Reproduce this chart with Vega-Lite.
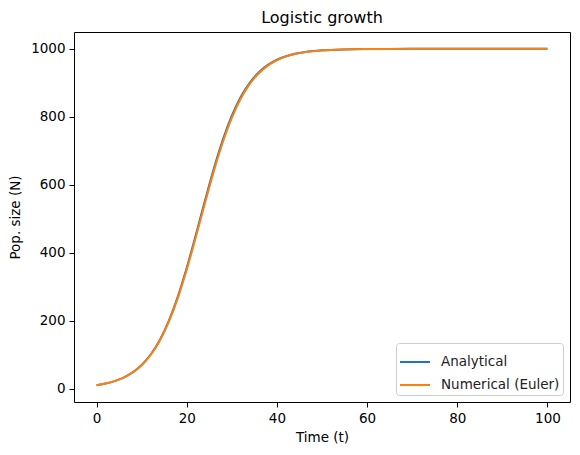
{
  "$schema": "https://vega.github.io/schema/vega-lite/v6.json",
  "width": 496,
  "height": 370,
  "autosize": {"type": "none"},
  "padding": {"left": 74, "top": 32, "right": 10, "bottom": 53},
  "background": "white",
  "title": {"text": "Logistic growth", "font": "DejaVu Sans", "fontSize": 16, "fontWeight": "normal", "color": "black", "offset": 6},
  "config": {
    "view": {"stroke": "black", "strokeWidth": 1},
    "axis": {"grid": false, "domain": false, "tickColor": "black", "tickSize": 5, "labelColor": "black", "labelFont": "DejaVu Sans", "labelFontSize": 13.5, "titleFont": "DejaVu Sans", "titleFontSize": 13.5, "titleFontWeight": "normal", "titleColor": "black", "labelPadding": 4},
    "legend": {"labelFont": "DejaVu Sans", "labelFontSize": 13.5, "labelColor": "#222"}
  },
  "data": {"values": [
    {"t": 0, "N": 10, "s": "Analytical"},
    {"t": 2, "N": 14.85, "s": "Analytical"},
    {"t": 4, "N": 21.99, "s": "Analytical"},
    {"t": 6, "N": 32.45, "s": "Analytical"},
    {"t": 8, "N": 47.65, "s": "Analytical"},
    {"t": 10, "N": 69.45, "s": "Analytical"},
    {"t": 12, "N": 100.2, "s": "Analytical"},
    {"t": 14, "N": 142.5, "s": "Analytical"},
    {"t": 16, "N": 198.6, "s": "Analytical"},
    {"t": 18, "N": 269.9, "s": "Analytical"},
    {"t": 20, "N": 355.5, "s": "Analytical"},
    {"t": 22, "N": 451.4, "s": "Analytical"},
    {"t": 24, "N": 551.0, "s": "Analytical"},
    {"t": 26, "N": 646.8, "s": "Analytical"},
    {"t": 28, "N": 732.0, "s": "Analytical"},
    {"t": 30, "N": 803.0, "s": "Analytical"},
    {"t": 32, "N": 858.7, "s": "Analytical"},
    {"t": 34, "N": 900.7, "s": "Analytical"},
    {"t": 36, "N": 931.2, "s": "Analytical"},
    {"t": 38, "N": 952.8, "s": "Analytical"},
    {"t": 40, "N": 967.9, "s": "Analytical"},
    {"t": 42, "N": 978.2, "s": "Analytical"},
    {"t": 44, "N": 985.3, "s": "Analytical"},
    {"t": 46, "N": 990.1, "s": "Analytical"},
    {"t": 48, "N": 993.3, "s": "Analytical"},
    {"t": 50, "N": 995.5, "s": "Analytical"},
    {"t": 55, "N": 998.3, "s": "Analytical"},
    {"t": 60, "N": 999.4, "s": "Analytical"},
    {"t": 65, "N": 999.8, "s": "Analytical"},
    {"t": 70, "N": 999.9, "s": "Analytical"},
    {"t": 80, "N": 1000, "s": "Analytical"},
    {"t": 90, "N": 1000, "s": "Analytical"},
    {"t": 100, "N": 1000, "s": "Analytical"},
    {"t": 0, "N": 10, "s": "Numerical (Euler)"},
    {"t": 2, "N": 14.81, "s": "Numerical (Euler)"},
    {"t": 4, "N": 21.88, "s": "Numerical (Euler)"},
    {"t": 6, "N": 32.2, "s": "Numerical (Euler)"},
    {"t": 8, "N": 47.2, "s": "Numerical (Euler)"},
    {"t": 10, "N": 68.6, "s": "Numerical (Euler)"},
    {"t": 12, "N": 98.8, "s": "Numerical (Euler)"},
    {"t": 14, "N": 140.3, "s": "Numerical (Euler)"},
    {"t": 16, "N": 195.5, "s": "Numerical (Euler)"},
    {"t": 18, "N": 265.4, "s": "Numerical (Euler)"},
    {"t": 20, "N": 349.7, "s": "Numerical (Euler)"},
    {"t": 22, "N": 444.6, "s": "Numerical (Euler)"},
    {"t": 24, "N": 543.5, "s": "Numerical (Euler)"},
    {"t": 26, "N": 639.3, "s": "Numerical (Euler)"},
    {"t": 28, "N": 725.0, "s": "Numerical (Euler)"},
    {"t": 30, "N": 797.0, "s": "Numerical (Euler)"},
    {"t": 32, "N": 853.9, "s": "Numerical (Euler)"},
    {"t": 34, "N": 896.9, "s": "Numerical (Euler)"},
    {"t": 36, "N": 928.3, "s": "Numerical (Euler)"},
    {"t": 38, "N": 950.6, "s": "Numerical (Euler)"},
    {"t": 40, "N": 966.3, "s": "Numerical (Euler)"},
    {"t": 42, "N": 977.1, "s": "Numerical (Euler)"},
    {"t": 44, "N": 984.5, "s": "Numerical (Euler)"},
    {"t": 46, "N": 989.5, "s": "Numerical (Euler)"},
    {"t": 48, "N": 992.9, "s": "Numerical (Euler)"},
    {"t": 50, "N": 995.2, "s": "Numerical (Euler)"},
    {"t": 55, "N": 998.2, "s": "Numerical (Euler)"},
    {"t": 60, "N": 999.3, "s": "Numerical (Euler)"},
    {"t": 65, "N": 999.75, "s": "Numerical (Euler)"},
    {"t": 70, "N": 999.9, "s": "Numerical (Euler)"},
    {"t": 80, "N": 1000, "s": "Numerical (Euler)"},
    {"t": 90, "N": 1000, "s": "Numerical (Euler)"},
    {"t": 100, "N": 1000, "s": "Numerical (Euler)"}
  ]},
  "mark": {"type": "line", "strokeWidth": 2, "interpolate": "monotone"},
  "encoding": {
    "x": {"field": "t", "type": "quantitative", "title": "Time (t)",
      "scale": {"domain": [-5, 105], "nice": false, "zero": false},
      "axis": {"values": [0, 20, 40, 60, 80, 100], "titlePadding": 6}},
    "y": {"field": "N", "type": "quantitative", "title": "Pop. size (N)",
      "scale": {"domain": [-39.5, 1049.5], "nice": false, "zero": false},
      "axis": {"values": [0, 200, 400, 600, 800, 1000], "format": "d", "titlePadding": 8}},
    "color": {"field": "s", "type": "nominal", "title": null,
      "scale": {"domain": ["Analytical", "Numerical (Euler)"], "range": ["#1f77b4", "#ff7f0e"]},
      "legend": {"orient": "bottom-right", "offset": 7, "symbolType": "stroke", "symbolSize": 900, "symbolStrokeWidth": 2,
        "strokeColor": "#cccccc", "fillColor": "rgba(255,255,255,0.8)", "cornerRadius": 3, "padding": 3, "rowPadding": -9, "labelOffset": 10}},
    "order": {"field": "t", "type": "quantitative"}
  }
}
